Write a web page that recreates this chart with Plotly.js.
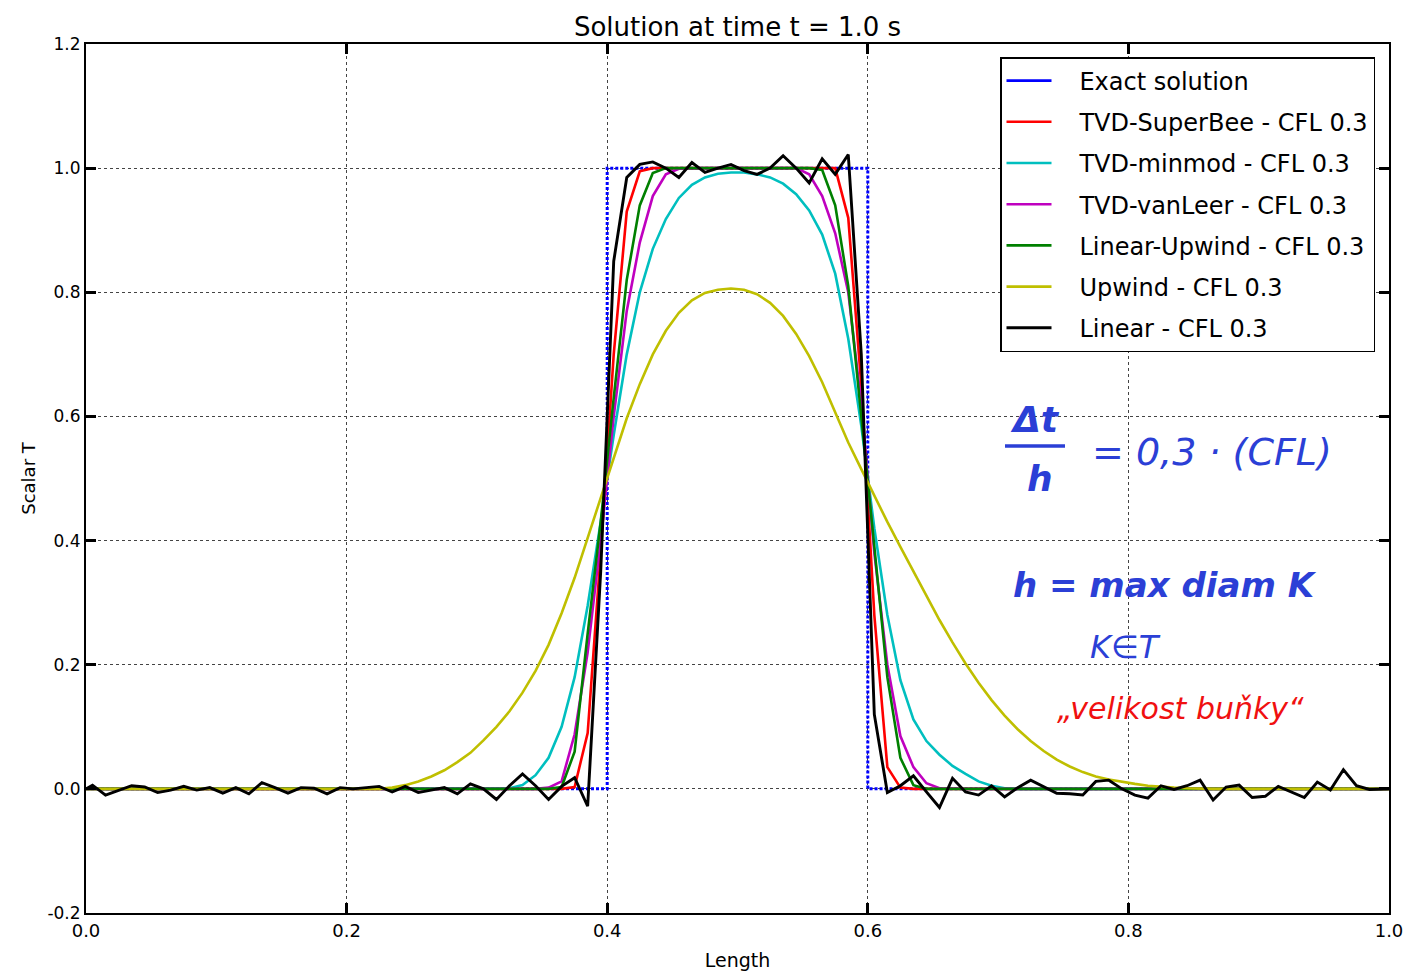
<!DOCTYPE html>
<html>
<head>
<meta charset="utf-8">
<script src="https://cdn.plot.ly/plotly-3.0.1.min.js"></script>
<style>html,body{margin:0;padding:0;background:#fff;}#chart{width:1420px;height:975px;}</style>
</head>
<body>
<div id="chart"></div>
<script>
// cell-centre positions (plus the two domain ends)
const xCells = [0,
0.005,0.015,0.025,0.035,0.045,0.055,0.065,0.075,0.085,0.095,
0.105,0.115,0.125,0.135,0.145,0.155,0.165,0.175,0.185,0.195,
0.205,0.215,0.225,0.235,0.245,0.255,0.265,0.275,0.285,0.295,
0.305,0.315,0.325,0.335,0.345,0.355,0.365,0.375,0.385,0.395,
0.405,0.415,0.425,0.435,0.445,0.455,0.465,0.475,0.485,0.495,
0.505,0.515,0.525,0.535,0.545,0.555,0.565,0.575,0.585,0.595,
0.605,0.615,0.625,0.635,0.645,0.655,0.665,0.675,0.685,0.695,
0.705,0.715,0.725,0.735,0.745,0.755,0.765,0.775,0.785,0.795,
0.805,0.815,0.825,0.835,0.845,0.855,0.865,0.875,0.885,0.895,
0.905,0.915,0.925,0.935,0.945,0.955,0.965,0.975,0.985,0.995,
1.0];

const xExact = [0, 0.4, 0.4, 0.6, 0.6, 1.0];
const yExact = [0, 0, 1, 1, 0, 0];

const ySuperBee = [0,
0,0,0,0,0,0,0,0,0,0,
0,0,0,0,0,0,0,0,0,0,
0,0,0,0,0,0,0,0,0,0,
0,0,0,0,0,0,0,0.003,0.09,0.38,
0.70,0.93,0.995,1,1,1,1,1,1,1,
1,1,1,1,1,1,1,1,0.92,0.65,
0.28,0.035,0.002,0,0,0,0,0,0,0,
0,0,0,0,0,0,0,0,0,0,
0,0,0,0,0,0,0,0,0,0,
0,0,0,0,0,0,0,0,0,0,
0];

const yMinmod = [0,
0,0,0,0,0,0,0,0,0,0,
0,0,0,0,0,0,0,0,0,0,
0,0,0,0,0,0,0,0,0,0,
0,0,0.001,0.006,0.022,0.05,0.10,0.18,0.295,0.43,
0.57,0.70,0.80,0.87,0.918,0.952,0.973,0.985,0.991,0.993,
0.993,0.99,0.985,0.975,0.958,0.932,0.893,0.83,0.725,0.585,
0.42,0.28,0.175,0.112,0.077,0.055,0.037,0.024,0.012,0.005,
0.001,0,0,0,0,0,0,0,0,0,
0,0,0,0,0,0,0,0,0,0,
0,0,0,0,0,0,0,0,0,0,
0];

const yVanLeer = [0,
0,0,0,0,0,0,0,0,0,0,
0,0,0,0,0,0,0,0,0,0,
0,0,0,0,0,0,0,0,0,0,
0,0,0,0,0,0.002,0.012,0.088,0.22,0.40,
0.60,0.77,0.88,0.955,0.99,0.999,1,1,1,1,
1,1,1,1,1,0.99,0.955,0.895,0.80,0.62,
0.38,0.20,0.085,0.035,0.009,0.001,0,0,0,0,
0,0,0,0,0,0,0,0,0,0,
0,0,0,0,0,0,0,0,0,0,
0,0,0,0,0,0,0,0,0,0,
0];

const yLinUpwind = [0,
0,0,0,0,0,0,0,0,0,0,
0,0,0,0,0,0,0,0,0,0,
0,0,0,0,0,0,0,0,0,0,
0,0,0,0,0,0,0.003,0.06,0.25,0.43,
0.63,0.82,0.94,0.992,1,1,1,1,1,1,
1,1,1,1,1,1,0.997,0.94,0.81,0.60,
0.38,0.18,0.05,0.006,0,0,0,0,0,0,
0,0,0,0,0,0,0,0,0,0,
0,0,0,0,0,0,0,0,0,0,
0,0,0,0,0,0,0,0,0,0,
0];

const yUpwind = [0,
0,0,0,0,0,0,0,0,0,0,
0,0,0,0,0,0,0,0,0,0,
0,0,0,0.002,0.006,0.012,0.02,0.03,0.043,0.058,
0.078,0.10,0.125,0.155,0.19,0.232,0.283,0.34,0.405,0.47,
0.535,0.597,0.652,0.70,0.738,0.767,0.787,0.799,0.804,0.806,
0.804,0.797,0.783,0.762,0.733,0.697,0.655,0.607,0.558,0.515,
0.472,0.43,0.39,0.35,0.31,0.272,0.236,0.202,0.171,0.143,
0.118,0.096,0.077,0.061,0.047,0.036,0.027,0.02,0.015,0.011,
0.008,0.005,0.003,0.002,0.001,0,0,0,0,0,
0,0,0,0,0,0,0,0,0,0,
0];

const yLinear = [0,
0.006,-0.010,-0.002,0.005,0.003,-0.006,-0.002,0.004,-0.002,0.002,
-0.007,0.002,-0.008,0.010,0.002,-0.007,0.002,0.001,-0.008,0.002,
0.000,0.002,0.004,-0.005,0.004,-0.006,-0.002,0.002,-0.008,0.008,
0.000,-0.017,0.005,0.024,0.005,-0.017,0.004,0.018,-0.028,0.35,
0.85,0.985,1.006,1.010,1.000,0.985,1.009,0.993,1.000,1.006,
0.996,0.990,1.000,1.020,1.000,0.976,1.015,0.990,1.022,0.70,
0.12,-0.006,0.005,0.021,-0.005,-0.030,0.017,-0.005,-0.010,0.005,
-0.013,0.002,0.014,0.003,-0.007,-0.008,-0.010,0.012,0.014,0.000,
-0.010,-0.015,0.005,-0.001,0.005,0.014,-0.018,0.003,0.006,-0.014,
-0.012,0.004,-0.005,-0.014,0.011,-0.002,0.031,0.005,-0.001,0.000,
0];

const seriesNames = ['Exact solution','TVD-SuperBee - CFL 0.3','TVD-minmod - CFL 0.3',
  'TVD-vanLeer - CFL 0.3','Linear-Upwind - CFL 0.3','Upwind - CFL 0.3','Linear - CFL 0.3'];
const seriesColors = ['#0000ff','#ff0000','#00bfbf','#bf00bf','#008000','#bfbf00','#000000'];
const seriesY = [null, ySuperBee, yMinmod, yVanLeer, yLinUpwind, yUpwind, yLinear];

const xTicks = [0, 0.2, 0.4, 0.6, 0.8, 1.0];
const xTickLabels = ['0.0','0.2','0.4','0.6','0.8','1.0'];
const yTicks = [-0.2, 0, 0.2, 0.4, 0.6, 0.8, 1.0, 1.2];
const yTickLabels = ['-0.2','0.0','0.2','0.4','0.6','0.8','1.0','1.2'];

const FONT = 'DejaVu Sans, sans-serif';
const LW = 2.6;
const PAD = '\u00a0\u00a0\u00a0';  // gap between legend sample and label

const traces = [];
// legend entry for the exact solution (solid sample as in the legend)
traces.push({x:[null], y:[null], type:'scatter', mode:'lines', name:PAD + seriesNames[0],
  legendgroup:'g0', line:{color:seriesColors[0], width:LW}, hoverinfo:'skip'});
// exact solution curve (drawn dotted as in the figure)
traces.push({x:xExact, y:yExact, type:'scatter', mode:'lines', name:seriesNames[0],
  showlegend:false, legendgroup:'g0', line:{color:seriesColors[0], width:3, dash:'3px,2px'}});
for (let i = 1; i < seriesNames.length; i++) {
  traces.push({x:xCells, y:seriesY[i], type:'scatter', mode:'lines', name:PAD + seriesNames[i],
    legendgroup:'g'+i, line:{color:seriesColors[i], width:(i === 6 ? 2.9 : LW)}});
}

const X0 = 86, X1 = 1389, Y0 = 44, Y1 = 913;
const px = v => (v - X0) / (X1 - X0);
const py = v => (Y1 - v) / (Y1 - Y0);
const BLUE = '#2b3fd6', RED = '#f01010';
const HAND = 'DejaVu Sans, sans-serif';

const layout = {
  width:1420, height:975,
  margin:{l:X0, r:1420-X1, t:Y0, b:975-Y1},
  paper_bgcolor:'#ffffff', plot_bgcolor:'#ffffff',
  font:{family:FONT, color:'#000'},
  title:{text:'Solution at time t = 1.0 s', font:{family:FONT, size:26, color:'#000'},
    xref:'paper', x:0.5, xanchor:'center', yref:'container', y:1-27/975, yanchor:'middle'},
  showlegend:true,
  legend:{x:px(1375), y:py(57), xanchor:'right', yanchor:'top',
    bgcolor:'#ffffff', bordercolor:'#000', borderwidth:1.5,
    font:{family:FONT, size:24, color:'#000'}, traceorder:'grouped', tracegroupgap:7,
    itemwidth:45},
  xaxis:{range:[0,1], tickvals:xTicks, ticktext:xTickLabels, ticks:'inside', ticklen:10, tickwidth:3,
    tickcolor:'#000', showline:true, linecolor:'#000', linewidth:2, mirror:'ticks',
    showgrid:true, gridcolor:'#444', griddash:'dot', gridwidth:1, zeroline:false,
    tickfont:{family:FONT, size:18, color:'#000'},
    title:{text:'Length', font:{family:FONT, size:19, color:'#000'}, standoff:14}},
  yaxis:{range:[-0.2,1.2], tickvals:yTicks, ticktext:yTickLabels, ticks:'inside', ticklen:10, tickwidth:3,
    tickcolor:'#000', showline:true, linecolor:'#000', linewidth:2, mirror:'ticks',
    showgrid:true, gridcolor:'#444', griddash:'dot', gridwidth:1, zeroline:false,
    tickfont:{family:FONT, size:17, color:'#000'},
    title:{text:'Scalar T', font:{family:FONT, size:18, color:'#000'}, standoff:7}},
  shapes:[
    {type:'line', xref:'paper', yref:'paper', x0:px(1005), x1:px(1065), y0:py(446), y1:py(446),
     line:{color:BLUE, width:3.5}}
  ],
  annotations:[
    {xref:'paper', yref:'paper', x:px(1035), y:py(420), text:'<b><i>Δt</i></b>', showarrow:false,
     font:{family:HAND, size:36, color:BLUE}, xanchor:'center', yanchor:'middle'},
    {xref:'paper', yref:'paper', x:px(1040), y:py(478), text:'<b><i>h</i></b>', showarrow:false,
     font:{family:HAND, size:36, color:BLUE}, xanchor:'center', yanchor:'middle'},
    {xref:'paper', yref:'paper', x:px(1212), y:py(452), text:'<i>= 0,3 · (CFL)</i>', showarrow:false,
     font:{family:HAND, size:38, color:BLUE}, xanchor:'center', yanchor:'middle'},
    {xref:'paper', yref:'paper', x:px(1165), y:py(585), text:'<b><i>h = max diam K</i></b>', showarrow:false,
     font:{family:HAND, size:34, color:BLUE}, xanchor:'center', yanchor:'middle'},
    {xref:'paper', yref:'paper', x:px(1125), y:py(647), text:'<i>K∈T</i>', showarrow:false,
     font:{family:HAND, size:32, color:BLUE}, xanchor:'center', yanchor:'middle'},
    {xref:'paper', yref:'paper', x:px(1180), y:py(708), text:'<i>„velikost buňky“</i>', showarrow:false,
     font:{family:HAND, size:30, color:RED}, xanchor:'center', yanchor:'middle'}
  ]
};

Plotly.newPlot('chart', traces, layout, {displayModeBar:false, staticPlot:true});
</script>
</body>
</html>
